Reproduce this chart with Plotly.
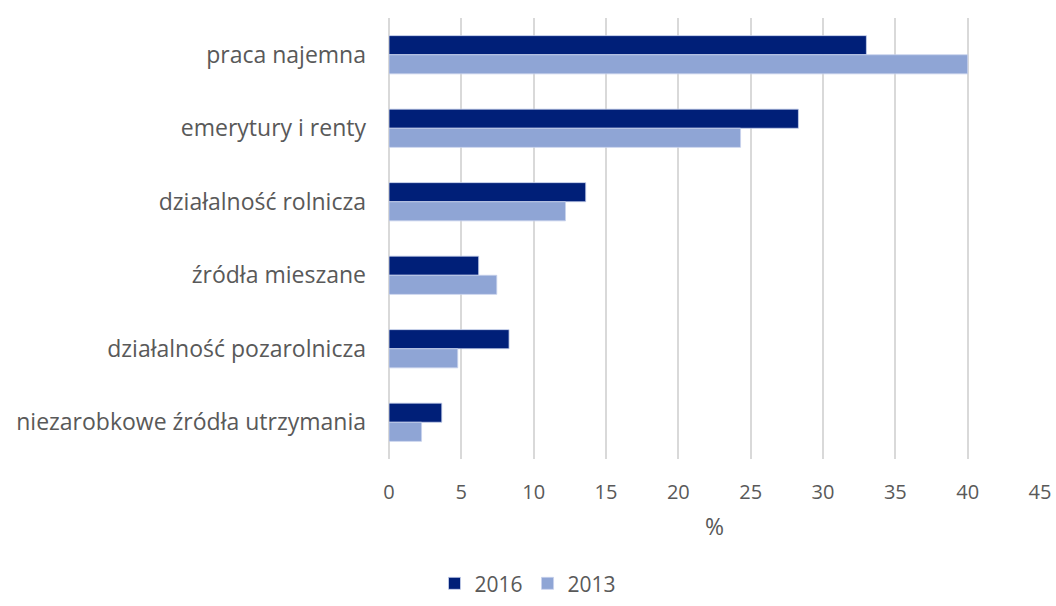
import plotly.graph_objects as go

# source of household income, share of households (%)
categories = [
    "praca najemna",
    "emerytury i renty",
    "działalność rolnicza",
    "źródła mieszane",
    "działalność pozarolnicza",
    "niezarobkowe źródła utrzymania",
]
values_2016 = [33.0, 28.3, 13.6, 6.2, 8.3, 3.65]
values_2013 = [40.0, 24.3, 12.2, 7.45, 4.75, 2.25]

dark_blue = "#001F78"
light_blue = "#8FA5D5"
text_grey = "#595959"
grid_grey = "#D9D9D9"

fig = go.Figure()

fig.add_trace(go.Bar(
    y=categories, x=values_2016, name="2016", orientation="h",
    marker=dict(color=dark_blue, line=dict(color="#C8D2EC", width=0.8)),
))
fig.add_trace(go.Bar(
    y=categories, x=values_2013, name="2013", orientation="h",
    marker=dict(color=light_blue, line=dict(color="#C8D2EC", width=0.8)),
))

fig.update_layout(
    width=1056,
    height=606,
    barmode="group",
    bargap=0.48,
    bargroupgap=0,
    plot_bgcolor="white",
    paper_bgcolor="white",
    font=dict(family="Open Sans", size=20, color=text_grey),
    margin=dict(l=389, r=16, t=18, b=147),
    legend=dict(
        orientation="h",
        xref="container", x=0.5, xanchor="center",
        yref="container", y=0.003, yanchor="bottom",
        font=dict(size=21, color=text_grey),
        itemwidth=30,
        traceorder="normal",
    ),
)

fig.update_xaxes(
    range=[0, 45],
    dtick=5,
    showgrid=True,
    gridcolor=grid_grey,
    gridwidth=2,
    zeroline=True,
    zerolinecolor=grid_grey,
    zerolinewidth=2,
    showline=False,
    automargin=False,
    ticklabelstandoff=19,
    tickfont=dict(size=20, color=text_grey),
    title=dict(text="%", standoff=14, font=dict(size=23, color=text_grey)),
)
fig.update_yaxes(
    autorange="reversed",
    showgrid=False,
    showline=False,
    automargin=False,
    ticklabelstandoff=22,
    tickfont=dict(size=23, color=text_grey),
)

# drop the browser's default 8px body margin so the figure sits at the page corner
fig.write_html(
    "out.html",
    config={"displayModeBar": False},
    post_script="document.body.style.margin='0';",
)
